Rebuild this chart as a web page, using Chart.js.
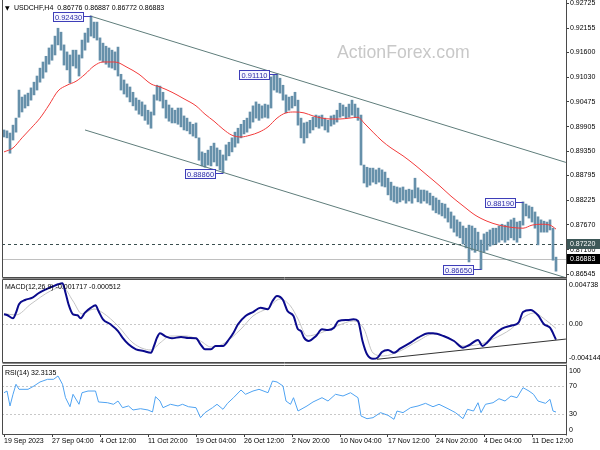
<!DOCTYPE html>
<html><head><meta charset="utf-8">
<script src="https://cdn.jsdelivr.net/npm/chart.js@4.4.0/dist/chart.umd.min.js"></script>
<style>
html,body{margin:0;padding:0;background:#fff;}
#wrap{position:relative;width:600px;height:450px;overflow:hidden;background:#fff;}
#wrap canvas{position:absolute;left:0;top:0;}
</style></head><body>
<div id="wrap">
<canvas id="cPrice" width="600" height="450"></canvas>
<canvas id="cMacd" width="600" height="450"></canvas>
<canvas id="cRsi" width="600" height="450"></canvas>
</div>
<script>
// ---------------- DATA ----------------
const symbolTitle = 'USDCHF,H4  0.86776 0.86887 0.86772 0.86883';
const macdTitle = 'MACD(12,26,9) -0.001717 -0.000512';
const rsiTitle = 'RSI(14) 32.3135';
const watermarkText = 'ActionForex.com';

const timeLabels = ['19 Sep 2023','27 Sep 04:00','4 Oct 12:00','11 Oct 20:00','19 Oct 04:00','26 Oct 12:00',
  '2 Nov 20:00','10 Nov 04:00','17 Nov 12:00','24 Nov 20:00','4 Dec 04:00','11 Dec 12:00'];
const labelStep = 16; // bars between time labels

const priceTicks = [0.92725,0.92155,0.91600,0.91030,0.90475,0.89905,0.89350,0.88795,0.88225,0.87670,0.87100,0.86545];
const macdTicks = [0.004738, 0, -0.004144];
const rsiTicks = [100, 70, 30, 0];
const rsiLevels = [70, 30];

const barHigh = [0.8983,0.8981,0.8976,0.8994,0.9010,0.9074,0.9058,0.9063,0.9067,0.9079,
 0.9092,0.9106,0.9124,0.9138,0.9151,0.9170,0.9177,0.9197,0.9215,0.9206,
 0.9177,0.9161,0.9154,0.9165,0.9165,0.9154,0.9188,0.9204,0.9215,0.9243,
 0.9229,0.9229,0.9193,0.9181,0.9174,0.9170,0.9165,0.9161,0.9172,0.9110,
 0.9097,0.9088,0.9081,0.9069,0.9056,0.9051,0.9047,0.9040,0.9028,0.9024,
 0.9063,0.9085,0.9083,0.9069,0.9051,0.9040,0.9033,0.9028,0.9033,0.9033,
 0.9015,0.9010,0.9001,0.8996,0.8999,0.8965,0.8933,0.8930,0.8937,0.8946,
 0.8953,0.8942,0.8937,0.8926,0.8949,0.8955,0.8965,0.8978,0.8987,0.8996,
 0.9005,0.9010,0.9024,0.9038,0.9047,0.9042,0.9038,0.9042,0.9040,0.9104,
 0.9108,0.9111,0.9101,0.9085,0.9063,0.9058,0.9060,0.9069,0.9051,0.9010,
 0.8999,0.9001,0.9005,0.9012,0.9017,0.9015,0.9017,0.9010,0.9005,0.9015,
 0.9017,0.9028,0.9044,0.9040,0.9035,0.9042,0.9051,0.9042,0.9033,0.9017,
 0.8903,0.8898,0.8896,0.8896,0.8892,0.8896,0.8892,0.8887,0.8873,0.8864,
 0.8855,0.8853,0.8851,0.8853,0.8846,0.8848,0.8846,0.8873,0.8851,0.8846,
 0.8846,0.8844,0.8839,0.8832,0.8828,0.8823,0.8816,0.8814,0.8805,0.8796,
 0.8787,0.8778,0.8773,0.8764,0.8759,0.8766,0.8764,0.8759,0.8750,0.8732,
 0.8746,0.8750,0.8755,0.8759,0.8759,0.8764,0.8768,0.8766,0.8773,0.8778,
 0.8782,0.8773,0.8775,0.8819,0.8814,0.8810,0.8807,0.8796,0.8785,0.8778,
 0.8775,0.8773,0.8778,0.8759,0.8693];
const barLow = [0.8967,0.8965,0.8930,0.8960,0.8978,0.9012,0.9024,0.9033,0.9038,0.9051,
 0.9063,0.9074,0.9092,0.9101,0.9115,0.9133,0.9142,0.9154,0.9177,0.9165,
 0.9131,0.9120,0.9090,0.9129,0.9124,0.9106,0.9147,0.9165,0.9183,0.9197,
 0.9193,0.9188,0.9142,0.9138,0.9133,0.9126,0.9124,0.9120,0.9106,0.9074,
 0.9065,0.9058,0.9047,0.9038,0.9028,0.9019,0.9015,0.9005,0.8996,0.8987,
 0.9017,0.9051,0.9049,0.9033,0.9010,0.9003,0.8999,0.8999,0.8996,0.8990,
 0.8983,0.8981,0.8974,0.8969,0.8965,0.8914,0.8901,0.8898,0.8903,0.8901,
 0.8910,0.8901,0.8892,0.8886,0.8914,0.8924,0.8933,0.8944,0.8953,0.8965,
 0.8974,0.8978,0.8987,0.9001,0.9010,0.9005,0.9010,0.9012,0.9010,0.9033,
 0.9074,0.9069,0.9067,0.9051,0.9022,0.9028,0.9033,0.9038,0.8994,0.8965,
 0.8953,0.8965,0.8976,0.8983,0.8990,0.8987,0.8992,0.8983,0.8978,0.8992,
 0.8996,0.9001,0.9012,0.9015,0.9010,0.9012,0.9017,0.9012,0.9005,0.8903,
 0.8862,0.8853,0.8857,0.8864,0.8860,0.8864,0.8855,0.8853,0.8835,0.8823,
 0.8819,0.8816,0.8819,0.8823,0.8816,0.8821,0.8816,0.8828,0.8819,0.8816,
 0.8821,0.8816,0.8812,0.8800,0.8794,0.8791,0.8787,0.8782,0.8773,0.8759,
 0.8750,0.8741,0.8737,0.8723,0.8714,0.8682,0.8709,0.8704,0.8709,0.8665,
 0.8704,0.8709,0.8718,0.8721,0.8723,0.8727,0.8732,0.8727,0.8732,0.8737,
 0.8732,0.8727,0.8737,0.8766,0.8787,0.8782,0.8773,0.8759,0.8721,0.8750,
 0.8750,0.8750,0.8755,0.8686,0.8661];

const maIdx = [0,3,6,9,12,15,18,21,24,27,30,33,37,41,45,49,52,56,60,64,67,70,73,76,79,82,85,88,91,94,97,100,103,106,109,112,115,118,120,123,126,129,133,137,141,145,149,153,157,161,165,169,173,176,179,182,184];
const maVal = [0.8933,0.8942,0.8965,0.8987,0.9010,0.9040,0.9072,0.9085,0.9094,0.9110,0.9129,0.9138,0.9138,0.9126,0.9110,0.9088,0.9081,0.9069,0.9054,0.9038,0.9019,0.9003,0.8985,0.8971,0.8967,0.8971,0.8978,0.8990,0.9010,0.9022,0.9024,0.9022,0.9015,0.9010,0.9008,0.9008,0.9010,0.9012,0.8999,0.8978,0.8958,0.8942,0.8924,0.8903,0.8880,0.8857,0.8832,0.8810,0.8789,0.8775,0.8766,0.8761,0.8759,0.8766,0.8768,0.8766,0.8757];

const upperChannelIdx = [28.7, 187.3];
const upperChannelPrice = [0.9243, 0.8909];
const lowerChannelIdx = [27.0, 187.3];
const lowerChannelPrice = [0.8983, 0.8646];

const pivotIdx = [29, 91, 73, 173, 159];
const pivotPrice = [0.92430, 0.91110, 0.88860, 0.88190, 0.86650];
const levelDashed = 0.87220;
const lastPrice = 0.86883;

const macdIdx = [0,1,3,4,5,7,9.5,11.5,14,16,18,19.5,20.5,21.5,23,24.5,25.5,27,29,30.5,31.5,33,35.5,38,39.5,41.5,44,46.5,49,50,51,52,54,56,59,61.5,64,65.5,67,69,70.5,73,75,76.5,78,80.5,83,85.5,88,89.5,91,93,94.5,96.5,98,99,100,101.5,104,106,108,110,111.5,114.5,116.5,118,119.5,121,123,124.5,126,128,130,132,135.5,138,141.5,143,146.5,150,153,155,158,159.5,161,163,166,169.5,171.5,173,175.5,178,180,182,184];
const macdVal = [0.00102,0.00095,0.00059,0.00120,0.00211,0.00257,0.00282,0.00330,0.00373,0.00401,0.00427,0.00438,0.00336,0.00211,0.00102,0.00092,0.00059,0.00120,0.00174,0.00200,0.00138,0.00048,-0.00006,-0.00079,-0.00151,-0.00223,-0.00277,-0.00295,-0.00314,-0.00241,-0.00151,-0.00103,-0.00140,-0.00158,-0.00143,-0.00154,-0.00158,-0.00223,-0.00277,-0.00277,-0.00241,-0.00241,-0.00168,-0.00097,-0.00006,0.00084,0.00127,0.00174,0.00157,0.00246,0.00300,0.00257,0.00138,0.00084,-0.00060,-0.00079,-0.00151,-0.00187,-0.00133,-0.00060,-0.00068,-0.00043,0.00030,0.00041,0.00048,0.00030,-0.00187,-0.00331,-0.00379,-0.00368,-0.00306,-0.00284,-0.00314,-0.00270,-0.00205,-0.00151,-0.00103,-0.00103,-0.00133,-0.00187,-0.00259,-0.00233,-0.00176,-0.00241,-0.00205,-0.00133,-0.00054,-0.00017,0.00011,0.00127,0.00149,0.00092,-0.00006,-0.00043,-0.00172];
const sigIdx = [0,4,9,15.5,19.5,23,26,30,33,38,43,49,52,55.5,61,65.5,69,73,79,83,88,92,95.5,98,101,105.5,111,116.5,120,123,126.5,132,138,143,149,153,159,163,169,173,176.5,181,184];
const sigVal = [0.00110,0.00095,0.00214,0.00355,0.00398,0.00246,0.00106,0.00160,0.00117,-0.00024,-0.00208,-0.00284,-0.00208,-0.00133,-0.00133,-0.00187,-0.00252,-0.00219,-0.00057,0.00084,0.00171,0.00268,0.00192,0.00052,-0.00133,-0.00100,-0.00024,0.00030,-0.00057,-0.00317,-0.00349,-0.00295,-0.00187,-0.00111,-0.00165,-0.00241,-0.00219,-0.00165,-0.00057,0.00062,0.00116,0.00030,-0.00051];
const macdTrendIdx = [124.3, 187.3];
const macdTrendVal = [-0.00385, -0.00166];

const rsiIdx = [0,1,2,3,4,5,8,10,12,14.5,16.5,18,19.5,20.5,22,23,25,26,28,30.5,31.5,34.5,36.5,38,39.5,41.5,43,45.5,48,49.5,50.5,52,53,55.5,58,59.5,61.5,64,65.5,67,69.5,71,73,74.5,76.5,79,80.5,83,85,88,89.5,91,93,94,95.5,96.5,98,99,101,103,106,108,110.5,113,115.5,118,119,121,123,125.5,128,130,131,133,135.5,138,140.5,143,145,148,150.5,153,154.5,156.5,158,159,160.5,163,165,167,169,171,173,175,176.5,178,180.5,182,183,184];
const rsiVal = [60.7,63.2,41.2,58.4,73.1,65.7,65.7,70.6,76.5,80.4,80.4,85.3,73.1,53.4,40.1,58.4,43.7,60.7,63.2,63.2,47.1,46.0,43.7,48.5,38.7,41.2,35.3,37.2,35.3,32.4,54.9,48.5,38.7,43.7,41.2,43.7,40.1,38.7,24.0,31.4,38.7,43.7,36.3,45.1,53.4,64.7,58.4,63.2,65.7,60.7,77.9,76.5,70.6,48.5,43.7,53.4,33.8,36.3,41.2,47.1,53.4,48.5,58.4,55.9,60.7,53.4,26.5,22.5,24.0,31.4,27.5,21.6,33.8,31.4,38.7,41.2,45.1,40.1,43.7,37.2,31.4,22.5,36.3,33.8,46.0,31.4,43.7,46.0,51.9,48.5,55.9,53.4,68.1,63.2,58.4,48.5,45.1,51.0,33.8,32.3];

// ---------------- STYLE / LAYOUT ----------------
const FONT = '"Liberation Sans", Arial, Helvetica, sans-serif';
const X_MIN = -2/3, X_MAX = 188 - 2/3;
const PRICE_MIN = 0.86477, PRICE_MAX = 0.92771;
const AXIS_W = 34;
const pts = (xs, ys) => xs.map((x, k) => ({ x, y: ys[k] }));

function xAxis(show) {
  const ax = {
    type: 'linear', min: X_MIN, max: X_MAX, offset: false, display: show,
    afterBuildTicks: s => { s.ticks = timeLabels.map((t, k) => ({ value: k * labelStep })); },
    ticks: { autoSkip: false, maxRotation: 0, minRotation: 0, align: 'start', padding: 0,
      color: '#000', font: { family: FONT, size: 7 }, callback: (v, k) => timeLabels[k] },
    grid: { drawOnChartArea: false, drawTicks: true, tickLength: 3, color: '#404040' },
    border: { display: false }
  };
  if (show) ax.afterFit = s => { s.height = 16; s.paddingLeft = 0; s.paddingRight = 0; };
  return ax;
}
function plainY(min, max) {
  return {
    position: 'right', min, max,
    afterFit: s => { s.width = AXIS_W; s.paddingTop = 0; s.paddingBottom = 0; },
    ticks: { display: false }, grid: { display: false }, border: { display: false }
  };
}
function drawFrame(chart, withTop, doubleBottom) {
  const { ctx, chartArea: a } = chart;
  const L = Math.round(a.left) + 0.5, R = Math.round(a.right) + 0.5;
  const T = Math.round(a.top) - 0.5, B = Math.round(a.bottom) + 0.5;
  ctx.save();
  ctx.lineWidth = 1; ctx.strokeStyle = '#4a4a4a'; ctx.setLineDash([]);
  ctx.beginPath();
  ctx.moveTo(L, withTop ? T : 0); ctx.lineTo(L, B);
  ctx.moveTo(R, withTop ? T - 1 : 0); ctx.lineTo(R, B + 1);
  ctx.moveTo(L, B); ctx.lineTo(R, B);
  if (withTop) { ctx.moveTo(L, T); ctx.lineTo(R, T); }
  ctx.stroke();
  if (doubleBottom) {
    ctx.strokeStyle = '#8a8a8a';
    ctx.beginPath(); ctx.moveTo(L, B + 1); ctx.lineTo(R, B + 1); ctx.stroke();
  }
  ctx.restore();
}
function hLine(chart, value, color, dash) {
  const { ctx, chartArea: a, scales: { y } } = chart;
  const py = Math.round(y.getPixelForValue(value)) + 0.5;
  ctx.save();
  ctx.lineWidth = 1; ctx.strokeStyle = color; ctx.setLineDash(dash);
  ctx.beginPath(); ctx.moveTo(a.left, py); ctx.lineTo(a.right, py); ctx.stroke();
  ctx.restore();
}
function insetLabels(chart, values, fmt) {
  const { ctx, chartArea: a, scales: { y } } = chart;
  ctx.save();
  ctx.font = '7px ' + FONT; ctx.fillStyle = '#000'; ctx.textAlign = 'left'; ctx.textBaseline = 'middle';
  values.forEach(v => {
    let py = y.getPixelForValue(v);
    py = Math.min(Math.max(py, a.top + 5), a.bottom - 4);
    ctx.fillText(fmt(v), a.right + 3, py);
  });
  ctx.restore();
}
function panelTitle(chart, text, x, y) {
  const { ctx } = chart;
  ctx.save();
  ctx.font = '7px ' + FONT; ctx.fillStyle = '#000'; ctx.textAlign = 'left'; ctx.textBaseline = 'middle';
  ctx.fillText(text, x, y);
  ctx.restore();
}

// ---------------- PRICE PANEL ----------------
const priceDeco = {
  id: 'priceDeco',
  beforeDatasetsDraw(chart) {
    const { ctx } = chart;
    ctx.save();
    ctx.font = '17.7px ' + FONT; ctx.fillStyle = '#C8C8C8'; ctx.textAlign = 'left'; ctx.textBaseline = 'alphabetic';
    ctx.fillText(watermarkText, 337, 58);
    ctx.restore();
    hLine(chart, lastPrice, '#C0C0C0', []);
    hLine(chart, levelDashed, '#3A4F4F', [3, 3]);
  },
  afterDatasetsDraw(chart) {
    const { ctx, scales: { x, y } } = chart;
    ctx.save();
    ctx.lineWidth = 1; ctx.setLineDash([]);
    ctx.font = '7.5px ' + FONT;
    pivotIdx.forEach((pi, k) => {
      const px = x.getPixelForValue(pi), py = y.getPixelForValue(pivotPrice[k]);
      const w = 31, h = 10;
      const right = Math.round(px - 7), left = right - w;
      const top = Math.round(py + 1 - h / 2);
      const ly = Math.round(py) + 0.5;
      ctx.strokeStyle = '#3E3EB8';
      ctx.beginPath(); ctx.moveTo(right, ly); ctx.lineTo(Math.round(px) + 0.5, ly); ctx.stroke();
      ctx.fillStyle = '#F7F7FF'; ctx.fillRect(left, top, w, h);
      ctx.strokeRect(left + 0.5, top + 0.5, w - 1, h - 1);
      ctx.fillStyle = '#2E2EA8'; ctx.textAlign = 'center'; ctx.textBaseline = 'middle';
      ctx.fillText(pivotPrice[k].toFixed(5), left + w / 2, top + h / 2 + 0.5);
    });
    ctx.restore();
  },
  afterDraw(chart) {
    drawFrame(chart, false, true);
    const { ctx, chartArea: a, scales: { y } } = chart;
    ctx.save();
    ctx.font = '6px "DejaVu Sans", sans-serif'; ctx.fillStyle = '#000'; ctx.textBaseline = 'middle';
    ctx.fillText('▼', 5, 8);
    ctx.restore();
    panelTitle(chart, symbolTitle, 14, 8);
    const tag = (v, bg, fg) => {
      const py = Math.round(y.getPixelForValue(v));
      ctx.save();
      ctx.fillStyle = bg; ctx.fillRect(a.right + 1, py - 5, 600 - a.right - 1, 10);
      ctx.font = '7px ' + FONT; ctx.fillStyle = fg; ctx.textAlign = 'left'; ctx.textBaseline = 'middle';
      ctx.fillText(v.toFixed(5), a.right + 4, py + 0.5);
      ctx.restore();
    };
    tag(levelDashed, '#3D5757', '#FFFFFF');
    tag(lastPrice, '#000000', '#FFFFFF');
  }
};

new Chart(document.getElementById('cPrice'), {
  type: 'bar',
  data: { datasets: [
    { type: 'bar', data: barHigh.map((h, i) => ({ x: i, y: [barLow[i], h] })), backgroundColor: '#6690AA',
      borderWidth: 0, barThickness: 2, order: 5 },
    { type: 'line', data: pts(maIdx, maVal), borderColor: '#F23B3B', borderWidth: 1, pointRadius: 0,
      tension: 0.4, cubicInterpolationMode: 'monotone', order: 1 },
    { type: 'line', data: pts(upperChannelIdx, upperChannelPrice), borderColor: '#5F7D7B', borderWidth: 1, pointRadius: 0, order: 2 },
    { type: 'line', data: pts(lowerChannelIdx, lowerChannelPrice), borderColor: '#5F7D7B', borderWidth: 1, pointRadius: 0, order: 2 }
  ]},
  options: {
    responsive: false, animation: false, devicePixelRatio: 1, events: [],
    layout: { padding: { left: 2, right: 0, top: 1, bottom: 173 } },
    scales: {
      x: xAxis(false),
      y: {
        position: 'right', min: PRICE_MIN, max: PRICE_MAX,
        afterBuildTicks: s => { s.ticks = priceTicks.map(v => ({ value: v })); },
        afterFit: s => { s.width = AXIS_W; s.paddingTop = 0; s.paddingBottom = 0; },
        ticks: { autoSkip: false, padding: 1, color: '#000', font: { family: FONT, size: 7 }, callback: v => v.toFixed(5) },
        grid: { drawOnChartArea: false, drawTicks: true, tickLength: 3, color: '#404040' },
        border: { display: false }
      }
    },
    plugins: { legend: { display: false }, tooltip: { enabled: false } }
  },
  plugins: [priceDeco]
});

// ---------------- MACD PANEL ----------------
const macdDeco = {
  id: 'macdDeco',
  beforeDatasetsDraw(chart) { hLine(chart, 0, '#C8C8C8', [2, 2]); },
  afterDraw(chart) {
    drawFrame(chart, true, true);
    insetLabels(chart, macdTicks, v => v === 0 ? '0.00' : v.toFixed(6));
    panelTitle(chart, macdTitle, 5, 287);
  }
};
new Chart(document.getElementById('cMacd'), {
  type: 'line',
  data: { datasets: [
    { data: pts(macdIdx, macdVal), borderColor: '#0A0A8C', borderWidth: 2, pointRadius: 0, tension: 0.3, cubicInterpolationMode: 'monotone', order: 1 },
    { data: pts(sigIdx, sigVal), borderColor: '#C4C4C4', borderWidth: 1, pointRadius: 0, tension: 0.4, cubicInterpolationMode: 'monotone', order: 2 },
    { data: pts(macdTrendIdx, macdTrendVal), borderColor: '#333333', borderWidth: 1, pointRadius: 0, order: 0 }
  ]},
  options: {
    responsive: false, animation: false, devicePixelRatio: 1, events: [],
    layout: { padding: { left: 2, right: 0, top: 280, bottom: 88 } },
    scales: { x: xAxis(false), y: plainY(macdTicks[2], macdTicks[0]) },
    plugins: { legend: { display: false }, tooltip: { enabled: false } }
  },
  plugins: [macdDeco]
});

// ---------------- RSI PANEL ----------------
const rsiDeco = {
  id: 'rsiDeco',
  beforeDatasetsDraw(chart) { rsiLevels.forEach(l => hLine(chart, l, '#C8C8C8', [2, 2])); },
  afterDraw(chart) {
    drawFrame(chart, true, false);
    insetLabels(chart, rsiTicks, v => String(v));
    panelTitle(chart, rsiTitle, 5, 373);
  }
};
new Chart(document.getElementById('cRsi'), {
  type: 'line',
  data: { datasets: [
    { data: pts(rsiIdx, rsiVal), borderColor: '#4FA3F2', borderWidth: 1, pointRadius: 0, tension: 0 }
  ]},
  options: {
    responsive: false, animation: false, devicePixelRatio: 1, events: [],
    layout: { padding: { left: 2, right: 0, top: 366, bottom: 0 } },
    scales: { x: xAxis(true), y: plainY(rsiTicks[3], rsiTicks[0]) },
    plugins: { legend: { display: false }, tooltip: { enabled: false } }
  },
  plugins: [rsiDeco]
});
</script>
</body></html>
